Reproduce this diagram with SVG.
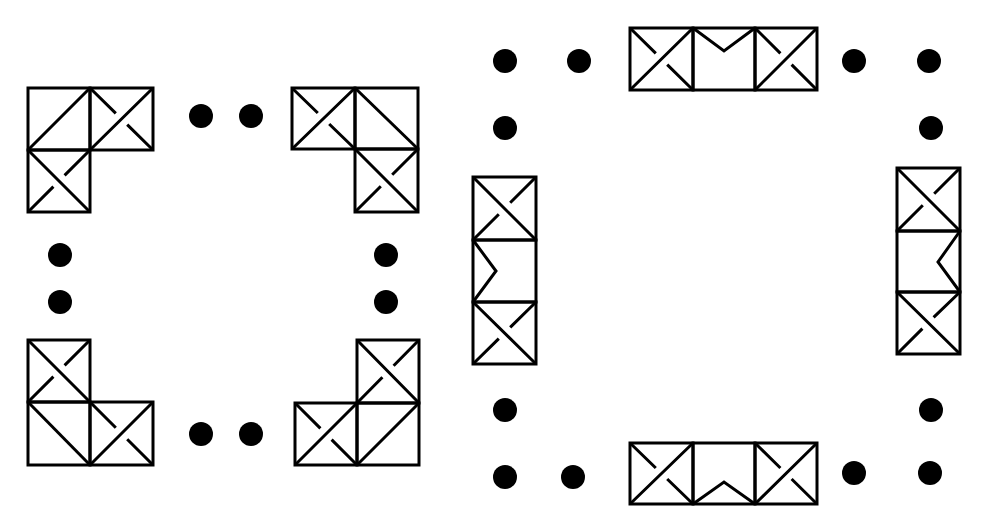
<svg xmlns="http://www.w3.org/2000/svg" width="992" height="531" viewBox="0 0 992 531">
<style>
.t rect{fill:none;stroke:#000;stroke-width:3}
.t path{fill:none;stroke:#000;stroke-width:3;stroke-linecap:butt;stroke-linejoin:miter}
.d circle{fill:#000}
</style>
<rect width="992" height="531" fill="#fff"/>
<g id="left-top-left" class="t">
<rect x="28" y="88" width="62" height="62"/><path d="M28,150L90,88"/>
<rect x="90" y="88" width="63" height="62"/><path d="M90,150L153,88M90,88L115.8,113.4M127.2,124.6L153,150"/>
<rect x="28" y="150" width="62" height="62"/><path d="M28,150L90,212M28,212L53.4,186.6M64.6,175.4L90,150"/>
</g>
<g id="left-top-right" class="t">
<rect x="292" y="88" width="63" height="61"/><path d="M292,149L355,88M292,88L317.8,113M329.2,124L355,149"/>
<rect x="355" y="88" width="63" height="61"/><path d="M355,88L418,149"/>
<rect x="355" y="149" width="63" height="63"/><path d="M355,149L418,212M355,212L380.8,186.2M392.2,174.8L418,149"/>
</g>
<g id="left-bottom-left" class="t">
<rect x="28" y="340" width="62" height="62"/><path d="M28,340L90,402M28,402L53.4,376.6M64.6,365.4L90,340"/>
<rect x="28" y="402" width="62" height="63"/><path d="M28,402L90,465"/>
<rect x="90" y="402" width="63" height="63"/><path d="M90,465L153,402M90,402L115.8,427.8M127.2,439.2L153,465"/>
</g>
<g id="left-bottom-right" class="t">
<rect x="357" y="340" width="62" height="63"/><path d="M357,340L419,403M357,403L382.4,377.2M393.6,365.8L419,340"/>
<rect x="295" y="403" width="62" height="62"/><path d="M295,465L357,403M295,403L320.4,428.4M331.6,439.6L357,465"/>
<rect x="357" y="403" width="62" height="62"/><path d="M357,465L419,403"/>
</g>
<g id="right-top" class="t">
<rect x="630" y="28" width="63" height="62"/><path d="M630,90L693,28M630,28L655.8,53.4M667.2,64.6L693,90"/>
<rect x="693" y="28" width="62" height="62"/><path d="M693,28L724,51L755,28"/>
<rect x="755" y="28" width="62" height="62"/><path d="M755,90L817,28M755,28L780.4,53.4M791.6,64.6L817,90"/>
</g>
<g id="right-bottom" class="t">
<rect x="630" y="443" width="63" height="61"/><path d="M630,504L693,443M630,443L655.8,468M667.2,479L693,504"/>
<rect x="693" y="443" width="62" height="61"/><path d="M693,504L724,482L755,504"/>
<rect x="755" y="443" width="62" height="61"/><path d="M755,504L817,443M755,443L780.4,468M791.6,479L817,504"/>
</g>
<g id="right-left" class="t">
<rect x="473" y="177" width="63" height="63"/><path d="M473,177L536,240M473,240L498.8,214.2M510.2,202.8L536,177"/>
<rect x="473" y="240" width="63" height="62"/><path d="M473,240L496,271L473,302"/>
<rect x="473" y="302" width="63" height="62"/><path d="M473,302L536,364M473,364L498.8,338.6M510.2,327.4L536,302"/>
</g>
<g id="right-right" class="t">
<rect x="897" y="168" width="63" height="63"/><path d="M897,168L960,231M897,231L922.8,205.2M934.2,193.8L960,168"/>
<rect x="897" y="231" width="63" height="61"/><path d="M960,231L938,262L960,292"/>
<rect x="897" y="292" width="63" height="62"/><path d="M897,292L960,354M897,354L922.4,328.6M933.6,317.4L960,292"/>
</g>
<g id="connectors" class="d">
<circle cx="201" cy="116" r="12"/><circle cx="251" cy="116" r="12"/>
<circle cx="60" cy="255" r="12"/><circle cx="60" cy="302" r="12"/>
<circle cx="386" cy="255" r="12"/><circle cx="386" cy="302" r="12"/>
<circle cx="201" cy="434" r="12"/><circle cx="251" cy="434" r="12"/>
<circle cx="505" cy="61" r="12"/><circle cx="579" cy="61" r="12"/>
<circle cx="854" cy="61" r="12"/><circle cx="929" cy="61" r="12"/>
<circle cx="505" cy="128" r="12"/><circle cx="931" cy="128" r="12"/>
<circle cx="505" cy="410" r="12"/><circle cx="931" cy="410" r="12"/>
<circle cx="505" cy="477" r="12"/><circle cx="573" cy="477" r="12"/>
<circle cx="854" cy="473" r="12"/><circle cx="930" cy="473" r="12"/>
</g>
</svg>
